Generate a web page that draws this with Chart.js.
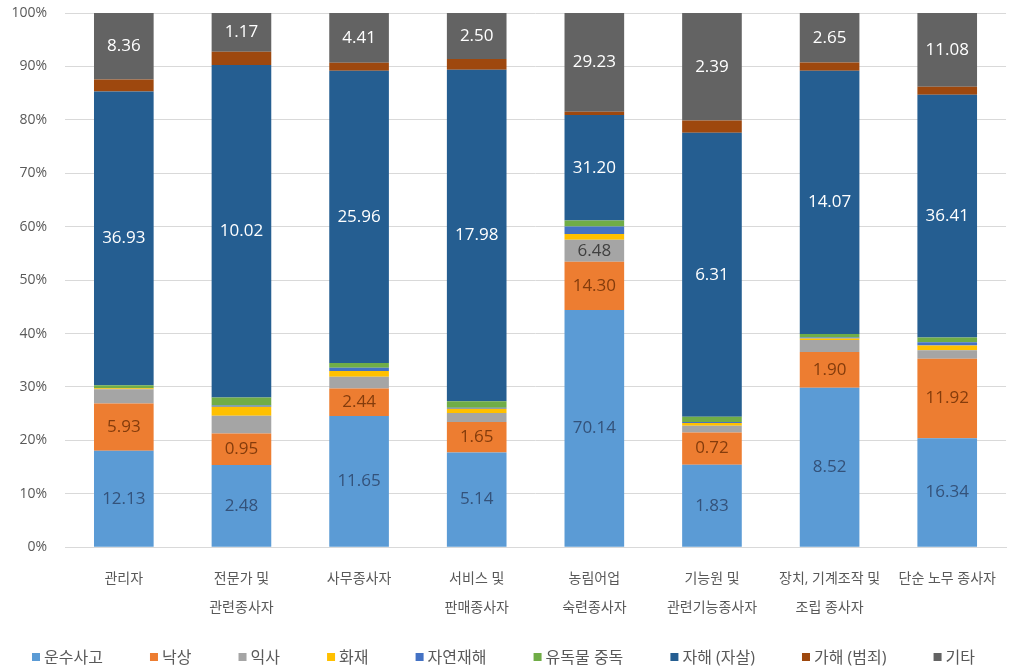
<!DOCTYPE html>
<html>
<head>
<meta charset="utf-8">
<script src="https://cdn.jsdelivr.net/npm/chart.js@4.4.1/dist/chart.umd.min.js"></script>
<style>
  html, body { margin: 0; padding: 0; background: #fff; }
  #wrap { width: 1013px; height: 671px; }
</style>
</head>
<body>
<div id="wrap"><canvas id="chart"></canvas></div>
<script>
    const categories = [
      ['관리자'], ['전문가 및', '관련종사자'], ['사무종사자'], ['서비스 및', '판매종사자'],
      ['농림어업', '숙련종사자'], ['기능원 및', '관련기능종사자'], ['장치, 기계조작 및', '조립 종사자'], ['단순 노무 종사자']
    ];
    const seriesNames = ['운수사고', '낙상', '익사', '화재', '자연재해', '유독물 중독', '자해 (자살)', '가해 (범죄)', '기타'];
    const seriesColors = ['#5b9bd5', '#ed7d31', '#a5a5a5', '#ffc000', '#4472c4', '#70ad47', '#255e91', '#9e480e', '#636363'];
    const labelColors = ['#34527a', '#843c0c', '#404040', '#404040', '#ffffff', '#404040', '#ffffff', '#ffffff', '#ffffff'];

    // raw values per series (labels show these; bars are drawn as share of category total)
    const transport = [12.13, 2.48, 11.65, 5.14, 70.14, 1.83, 8.52, 16.34];
    const fall      = [5.93, 0.95, 2.44, 1.65, 14.30, 0.72, 1.90, 11.92];
    const drowning  = [1.80, 0.53, 1.05, 0.49, 6.48, 0.15, 0.65, 1.30];
    const fire      = [0.10, 0.27, 0.52, 0.23, 1.75, 0.06, 0.08, 0.70];
    const natural   = [0.05, 0.04, 0.28, 0.06, 2.20, 0.02, 0.05, 0.50];
    const poison    = [0.33, 0.24, 0.43, 0.35, 1.75, 0.12, 0.18, 0.70];
    const suicide   = [36.93, 10.02, 25.96, 17.98, 31.20, 6.31, 14.07, 36.41];
    const assault   = [1.50, 0.40, 0.71, 0.58, 0.95, 0.27, 0.43, 1.20];
    const other     = [8.36, 1.17, 4.41, 2.50, 29.23, 2.39, 2.65, 11.08];

    const yTicks = [0, 10, 20, 30, 40, 50, 60, 70, 80, 90, 100];

    const allSeries = [transport, fall, drowning, fire, natural, poison, suicide, assault, other];
    const totals = categories.map((c, j) => allSeries.reduce((s, arr) => s + arr[j], 0));

    const FONT = "'Open Sans', 'Noto Sans CJK KR', sans-serif";

    const datasets = allSeries.map((arr, i) => ({
      label: seriesNames[i],
      raw: arr,
      data: arr.map((v, j) => v / totals[j] * 100),
      backgroundColor: seriesColors[i],
      borderWidth: 0,
      barPercentage: 0.507,
      categoryPercentage: 1.0,
    }));

    // value labels in the middle of the bigger segments
    const valueLabels = {
      id: 'valueLabels',
      afterDatasetsDraw(chart) {
        const ctx = chart.ctx;
        ctx.save();
        ctx.font = '17px ' + FONT;
        ctx.textAlign = 'center';
        ctx.textBaseline = 'middle';
        chart.data.datasets.forEach((ds, i) => {
          const meta = chart.getDatasetMeta(i);
          meta.data.forEach((bar, j) => {
            if (ds.data[j] < 4) return;
            ctx.fillStyle = labelColors[i];
            ctx.fillText(ds.raw[j].toFixed(2), bar.x, (bar.y + bar.base) / 2);
          });
        });
        ctx.restore();
      }
    };

    // legend row along the bottom, Excel style
    const bottomLegend = {
      id: 'bottomLegend',
      afterDraw(chart) {
        const ctx = chart.ctx;
        ctx.save();
        ctx.font = '16px ' + FONT;
        ctx.textBaseline = 'middle';
        const box = 8, gap = 4;
        const widths = seriesNames.map(n => box + gap + ctx.measureText(n).width);
        const left = 32, right = 975;
        const space = (right - left - widths.reduce((a, b) => a + b, 0)) / (seriesNames.length - 1);
        let x = left;
        const y = 657;
        seriesNames.forEach((n, i) => {
          ctx.fillStyle = seriesColors[i];
          ctx.fillRect(x, y - box / 2, box, box);
          ctx.fillStyle = '#595959';
          ctx.fillText(n, x + box + gap, y + 1);
          x += widths[i] + space;
        });
        ctx.restore();
      }
    };

    const ctx = document.getElementById('chart').getContext('2d');
    const chart = new Chart(ctx, {
      type: 'bar',
      data: { labels: categories, datasets: datasets },
      options: {
        responsive: true,
        maintainAspectRatio: false,
        animation: false,
        layout: { padding: { top: 0, right: 1, bottom: 31, left: 0 } },
        plugins: {
          legend: { display: false },
          tooltip: { enabled: false },
        },
        scales: {
          x: {
            stacked: true,
            grid: { display: false, drawTicks: false },
            border: { color: '#d9d9d9' },
            ticks: {
              color: '#595959',
              font: { family: FONT, size: 14, lineHeight: 2.1 },
              padding: 17,
              autoSkip: false,
              maxRotation: 0,
              minRotation: 0,
            },
          },
          y: {
            stacked: true,
            min: 0,
            max: 100,
            afterFit(axis) { axis.width = 65; axis.paddingTop = 13; },
            afterBuildTicks(axis) { axis.ticks = yTicks.map(v => ({ value: v })); },
            grid: { color: '#d9d9d9', drawTicks: false },
            border: { display: false },
            ticks: {
              color: '#595959',
              font: { family: FONT, size: 14 },
              padding: 18,
              callback: v => v + '%',
            },
          },
        },
      },
      plugins: [valueLabels, bottomLegend],
    });
</script>
</body>
</html>
